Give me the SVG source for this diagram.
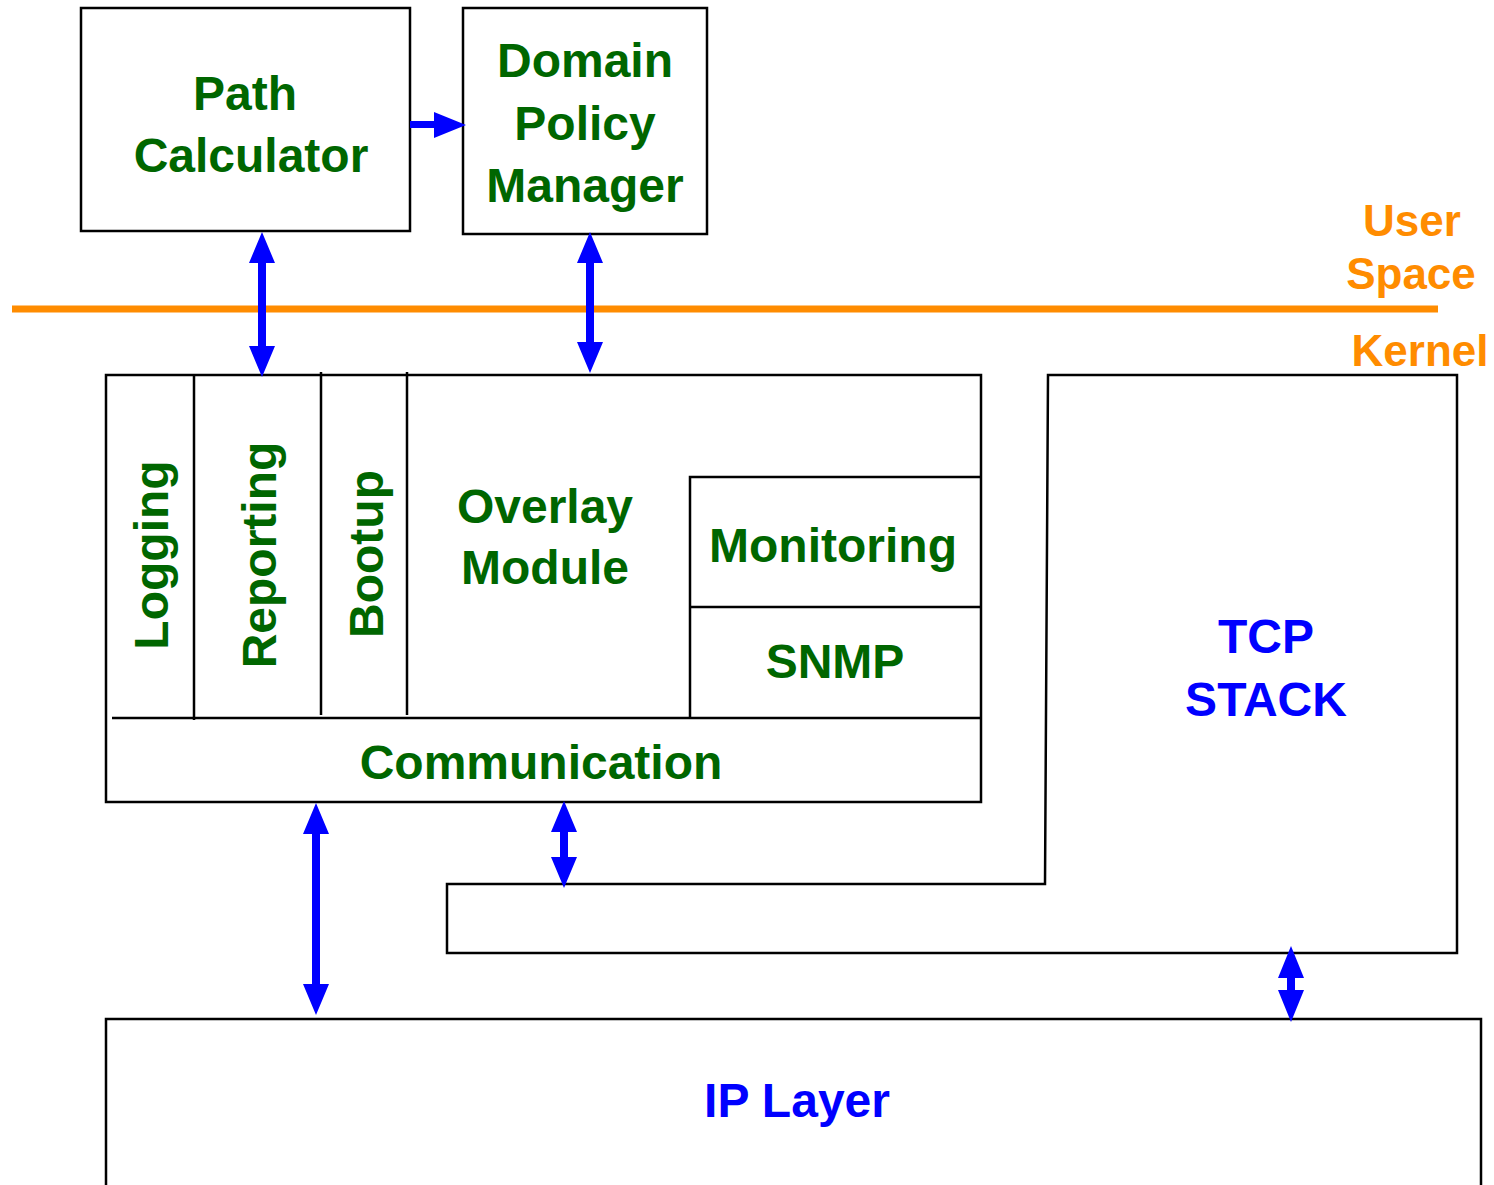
<svg xmlns="http://www.w3.org/2000/svg" width="1494" height="1185" viewBox="0 0 1494 1185">
<style>
.box{fill:#fff;stroke:#000;stroke-width:2.5}
.ln{fill:none;stroke:#000;stroke-width:2.5}
.g{font-family:"Liberation Sans",Arial,sans-serif;font-weight:bold;font-size:48px;fill:#006600;text-anchor:middle}
.b{font-family:"Liberation Sans",Arial,sans-serif;font-weight:bold;font-size:48px;fill:#0000FF;text-anchor:middle}
.o{font-family:"Liberation Sans",Arial,sans-serif;font-weight:bold;font-size:44px;fill:#FF8C00;text-anchor:middle}
.ar{fill:#0000FF}
</style>
<rect width="1494" height="1185" fill="#fff"/>
<line x1="12" y1="309" x2="1438" y2="309" stroke="#FF8C00" stroke-width="7"/>
<g id="labels">
<text class="o" x="1412" y="236">User</text>
<text class="o" x="1411" y="289">Space</text>
<text class="o" x="1420" y="366">Kernel</text>
</g>
<g id="path-calculator">
<rect class="box" x="81" y="8" width="329" height="223"/>
<text class="g" x="245" y="110">Path</text>
<text class="g" x="251" y="172">Calculator</text>
</g>
<g id="domain-policy-manager">
<rect class="box" x="463" y="8" width="244" height="226"/>
<text class="g" x="585" y="77">Domain</text>
<text class="g" x="585" y="140">Policy</text>
<text class="g" x="585" y="202">Manager</text>
</g>
<g id="tcp-stack">
<path class="ln" d="M1048,375 L1457,375 L1457,953 L447,953 L447,884 L1045,884 Z"/>
<text class="b" x="1266" y="653">TCP</text>
<text class="b" x="1266" y="716">STACK</text>
</g>
<g id="overlay-module">
<rect class="box" x="106" y="375" width="875" height="427"/>
<line class="ln" x1="194" y1="375" x2="194" y2="720"/>
<line class="ln" x1="321" y1="372" x2="321" y2="715"/>
<line class="ln" x1="407" y1="372" x2="407" y2="715"/>
<line class="ln" x1="112" y1="718" x2="981" y2="718"/>
<text class="g" x="545" y="523">Overlay</text>
<text class="g" x="545" y="584">Module</text>
</g>
<g id="logging"><text class="g" transform="translate(168,555) rotate(-90)">Logging</text></g>
<g id="reporting"><text class="g" transform="translate(276,555) rotate(-90)">Reporting</text></g>
<g id="bootup"><text class="g" transform="translate(383,554) rotate(-90)">Bootup</text></g>
<g id="monitoring">
<path class="ln" d="M981,477 L690,477 L690,718 M690,607 L981,607"/>
<text class="g" x="833" y="562">Monitoring</text>
</g>
<g id="snmp"><text class="g" x="835" y="678">SNMP</text></g>
<g id="communication"><text class="g" x="541" y="779">Communication</text></g>
<g id="ip-layer">
<path class="ln" d="M106,1190 L106,1019 L1481,1019 L1481,1190"/>
<text class="b" x="797" y="1117">IP Layer</text>
</g>
<g id="connectors">
<polygon class="ar" points="410,121 434,121 434,112 466,125 434,138 434,128 410,128"/>
<polygon class="ar" points="262,232 275,263 266,263 266,346 275,346 262,377 249,346 258,346 258,263 249,263"/>
<polygon class="ar" points="590,232 603,263 594,263 594,342 603,342 590,373 577,342 586,342 586,263 577,263"/>
<polygon class="ar" points="316,803 329,834 320,834 320,984 329,984 316,1015 303,984 312,984 312,834 303,834"/>
<polygon class="ar" points="564,801 577,832 568,832 568,857 577,857 564,888 551,857 560,857 560,832 551,832"/>
<polygon class="ar" points="1291,946 1304,978 1295,978 1295,990 1304,990 1291,1022 1278,990 1287,990 1287,978 1278,978"/>
</g>
</svg>
